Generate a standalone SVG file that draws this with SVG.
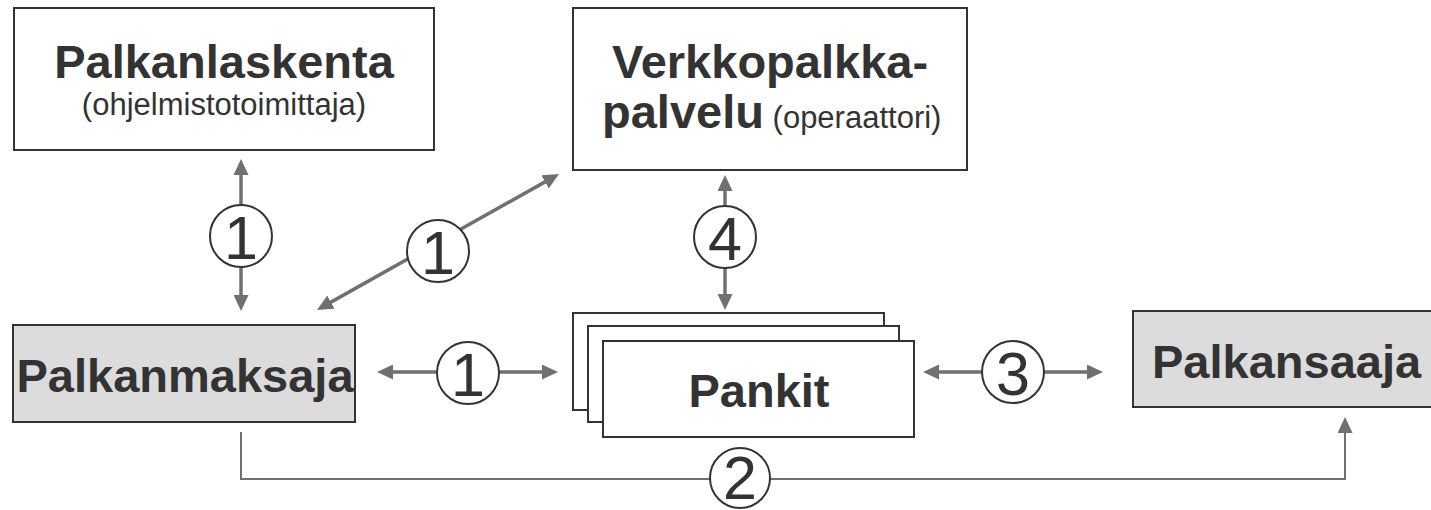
<svg xmlns="http://www.w3.org/2000/svg" width="1431" height="510" viewBox="0 0 1431 510">
<style>
.box{fill:#fff;stroke:#333;stroke-width:2}
.grey{fill:#dcdcdc;stroke:#333;stroke-width:2}
.bt{font-family:"Liberation Sans",Arial,sans-serif;font-weight:bold;font-size:47px;fill:#333}
.st{font-family:"Liberation Sans",Arial,sans-serif;font-size:31px;fill:#333}
.arr{stroke:#707070;stroke-width:3.5;fill:none;marker-start:url(#ah);marker-end:url(#ah)}
.one{stroke:#707070;stroke-width:2;fill:none;marker-end:url(#ah)}
.num circle{fill:#fff;stroke:#333;stroke-width:2}
.num text{font-family:"Liberation Sans",Arial,sans-serif;font-size:61px;fill:#333;text-anchor:middle}
</style>
<defs>
<marker id="ah" markerUnits="userSpaceOnUse" markerWidth="16" markerHeight="15" refX="3" refY="7.5" orient="auto-start-reverse" viewBox="0 0 16 15">
<path d="M0,0 L16,7.5 L0,15 z" fill="#707070"/>
</marker>
</defs>
<g id="palkanlaskenta">
<rect class="box" x="14" y="8" width="420" height="142"/>
<text class="bt" x="224" y="78" text-anchor="middle">Palkanlaskenta</text>
<text class="st" x="224" y="115" text-anchor="middle">(ohjelmistotoimittaja)</text>
</g>
<g id="verkkopalkka">
<rect class="box" x="573" y="8" width="394" height="162"/>
<text class="bt" x="770" y="78" text-anchor="middle">Verkkopalkka-</text>
<text x="602" y="128"><tspan class="bt">palvelu</tspan><tspan class="st"> (operaattori)</tspan></text>
</g>
<g id="palkanmaksaja">
<rect class="grey" x="13" y="325" width="342" height="97"/>
<text class="bt" x="185" y="392" text-anchor="middle">Palkanmaksaja</text>
</g>
<g id="pankit">
<rect class="box" x="573" y="313" width="311" height="97"/>
<rect class="box" x="588" y="326" width="311" height="96"/>
<rect class="box" x="603" y="341" width="311" height="96"/>
<text class="bt" x="759" y="407" text-anchor="middle">Pankit</text>
</g>
<g id="palkansaaja">
<rect class="grey" x="1133" y="311" width="300" height="96"/>
<text class="bt" x="1152" y="378">Palkansaaja</text>
</g>
<g id="connectors">
<line class="arr" x1="241" y1="172" x2="241" y2="298"/>
<line class="arr" x1="547.7" y1="180.4" x2="328.3" y2="303.6"/>
<line class="arr" x1="390" y1="372" x2="545" y2="372"/>
<line class="arr" x1="725" y1="188" x2="725" y2="297"/>
<line class="arr" x1="936" y1="372" x2="1090" y2="372"/>
<path class="one" d="M241,432 V479 H1345 V430"/>
<g class="num">
<circle cx="241" cy="236" r="31"/><text x="241" y="259">1</text>
<circle cx="438" cy="251" r="31"/><text x="438" y="274">1</text>
<circle cx="468" cy="373" r="31"/><text x="468" y="396">1</text>
<circle cx="725" cy="237" r="31"/><text x="725" y="260">4</text>
<circle cx="1013" cy="372" r="31"/><text x="1013" y="395">3</text>
<circle cx="740" cy="478" r="30"/><text x="740" y="499" font-size="58">2</text>
</g>
</g>
</svg>
